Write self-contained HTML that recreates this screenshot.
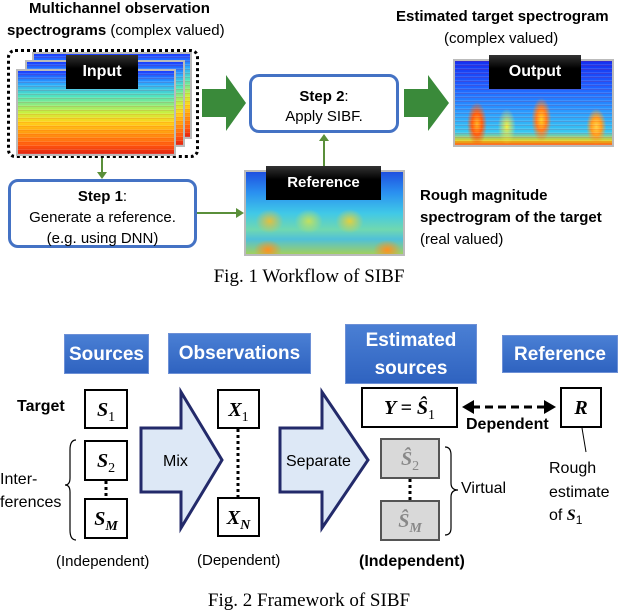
<!DOCTYPE html>
<html><head><meta charset="utf-8"><style>
body{margin:0;width:618px;height:616px;background:#fff;position:relative;overflow:hidden;font-family:"Liberation Sans",sans-serif;}
.a{position:absolute;}
.t{position:absolute;white-space:nowrap;font-size:15px;color:#000;}
.b{font-weight:bold;}
.spec{position:absolute;border:2px solid #bbb;box-sizing:border-box;overflow:hidden;}
.in{background:linear-gradient(#1a3cff 0%,#2aa7ff 15%,#4fe3c0 30%,#c8f040 50%,#ffd21a 62%,#ff9a10 75%,#ff5a10 90%,#e02010 100%);}
.in::after,.ou::after{content:"";position:absolute;inset:0;background:repeating-linear-gradient(0deg,rgba(255,255,255,.12) 0 1px,rgba(0,0,0,0) 1px 3px,rgba(255,0,0,.12) 3px 4px);}
.ou{background:radial-gradient(ellipse 10px 22px at 14% 75%,#ffb020,#ff6010 50%,rgba(0,0,0,0) 100%),radial-gradient(ellipse 10px 22px at 55% 70%,#ffd020,#ff8020 50%,rgba(0,0,0,0) 100%),radial-gradient(ellipse 10px 18px at 90% 78%,#ffd040,#ffa020 50%,rgba(0,0,0,0) 100%),radial-gradient(ellipse 9px 18px at 33% 78%,#f0f040,rgba(0,0,0,0) 100%),linear-gradient(#1430f0 0%,#1e60ff 30%,#2a9aff 60%,#38c8f0 85%,#e0d020 95%,#ff5010 100%);}
.re{background:radial-gradient(ellipse 14px 12px at 15% 60%,#e0c040,rgba(0,0,0,0)),radial-gradient(ellipse 14px 12px at 40% 60%,#c0e060,rgba(0,0,0,0)),radial-gradient(ellipse 14px 12px at 66% 60%,#e0d040,rgba(0,0,0,0)),radial-gradient(ellipse 14px 10px at 90% 95%,#ff9020,rgba(0,0,0,0)),radial-gradient(ellipse 14px 10px at 14% 95%,#ff9020,rgba(0,0,0,0)),linear-gradient(#1e50e0 0%,#2a90f0 25%,#40c8e8 50%,#70d8b0 70%,#50c0d8 82%,#a0d060 100%);}
.lbl{position:absolute;background:linear-gradient(#333,#000 40%);color:#fff;font-weight:bold;font-size:15px;text-align:center;box-sizing:border-box;}
.rb{position:absolute;border:3px solid #4472c4;border-radius:10px;box-sizing:border-box;background:#fff;text-align:center;font-size:15px;}
.hd{position:absolute;background:linear-gradient(#4a7fd4,#2f63c0);color:#fff;font-weight:bold;font-size:19px;text-align:center;box-sizing:border-box;border:1px solid #6d90d6;}
.bx{position:absolute;border:2px solid #000;box-sizing:border-box;background:#fff;text-align:center;font-family:"Liberation Serif",serif;font-weight:bold;font-style:italic;font-size:20px;}
.gb{background:#d9d9d9;border-color:#555;color:#888;}
.cap{position:absolute;width:618px;text-align:center;font-family:"Liberation Serif",serif;font-size:19px;}
</style></head><body>
<div class="t b" style="left:29px;top:0px;">Multichannel observation</div>
<div class="t" style="left:7px;top:22px;"><b>spectrograms</b> (complex valued)</div>
<div class="a" style="left:7px;top:49px;width:192px;height:109px;border:3px dotted #000;border-radius:8px;box-sizing:border-box;"></div>
<div class="spec in" style="left:32px;top:52px;width:160px;height:87px;"></div>
<div class="spec in" style="left:25px;top:60px;width:160px;height:87px;"></div>
<div class="spec in" style="left:16px;top:69px;width:160px;height:87px;"></div>
<div class="lbl" style="left:66px;top:55px;width:72px;height:34px;line-height:34px;font-size:16px;">Input</div>

<svg class="a" style="left:0;top:0" width="618" height="300">
<polygon points="202,89 226,89 226,75 246,103 226,131 226,117 202,117" fill="#3a8a3a"/>
<polygon points="404,89 428,89 428,75 449,103 428,131 428,117 404,117" fill="#3a8a3a"/>
<g stroke="#5a8f3a" stroke-width="2" fill="#5a8f3a">
<line x1="102" y1="158" x2="102" y2="173"/><polygon points="97,172 107,172 102,179" stroke="none"/>
<line x1="197" y1="213" x2="237" y2="213"/><polygon points="236,208 236,218 244,213" stroke="none"/>
<line x1="324" y1="170" x2="324" y2="140"/><polygon points="319,141 329,141 324,134" stroke="none"/>
</g>
</svg>

<div class="rb" style="left:249px;top:74px;width:150px;height:59px;padding-top:10px;line-height:20px;"><b>Step 2</b>:<br>Apply SIBF.</div>
<div class="t b" style="left:396px;top:8px;">Estimated target spectrogram</div>
<div class="t" style="left:444px;top:30px;">(complex valued)</div>
<div class="spec ou" style="left:453px;top:59px;width:161px;height:88px;"></div>
<div class="lbl" style="left:489px;top:55px;width:92px;height:34px;line-height:34px;font-size:16px;">Output</div>

<div class="rb" style="left:8px;top:179px;width:189px;height:69px;padding-top:4px;line-height:21px;"><b>Step 1</b>:<br>Generate a reference.<br>(e.g. using DNN)</div>
<div class="spec re" style="left:244px;top:170px;width:161px;height:86px;"></div>
<div class="lbl" style="left:266px;top:166px;width:115px;height:34px;line-height:34px;">Reference</div>
<div class="t b" style="left:420px;top:187px;">Rough magnitude</div>
<div class="t b" style="left:420px;top:209px;">spectrogram of the target</div>
<div class="t" style="left:420px;top:231px;">(real valued)</div>
<div class="cap" style="top:266px;">Fig. 1 Workflow of SIBF</div>

<div class="hd" style="left:64px;top:334px;width:85px;height:40px;line-height:40px;">Sources</div>
<div class="hd" style="left:168px;top:333px;width:143px;height:41px;line-height:40px;">Observations</div>
<div class="hd" style="left:345px;top:324px;width:132px;height:60px;line-height:28px;padding-top:2px;">Estimated<br>sources</div>
<div class="hd" style="left:502px;top:335px;width:116px;height:38px;line-height:38px;">Reference</div>

<div class="t b" style="left:17px;top:398px;font-size:16px;">Target</div>
<div class="bx" style="left:84px;top:389px;width:44px;height:40px;line-height:38px;">S<sub style="font-style:normal;font-weight:normal;font-size:14px">1</sub></div>
<div class="bx" style="left:84px;top:440px;width:44px;height:41px;line-height:38px;">S<sub style="font-style:normal;font-weight:normal;font-size:14px">2</sub></div>
<div class="bx" style="left:84px;top:498px;width:44px;height:41px;line-height:38px;">S<sub style="font-size:14px">M</sub></div>
<div class="t" style="left:0px;top:471px;font-size:16px;">Inter-</div>
<div class="t" style="left:0px;top:494px;font-size:16px;">ferences</div>
<div class="bx" style="left:217px;top:389px;width:43px;height:40px;line-height:38px;">X<sub style="font-style:normal;font-weight:normal;font-size:14px">1</sub></div>
<div class="bx" style="left:217px;top:497px;width:43px;height:40px;line-height:38px;">X<sub style="font-size:14px">N</sub></div>
<div class="bx" style="left:361px;top:387px;width:97px;height:41px;line-height:38px;">Y = Ŝ<sub style="font-style:normal;font-weight:normal;font-size:14px">1</sub></div>
<div class="bx" style="left:560px;top:387px;width:42px;height:41px;line-height:38px;">R</div>
<div class="bx gb" style="left:380px;top:438px;width:60px;height:41px;line-height:38px;">Ŝ<sub style="font-style:normal;font-weight:normal;font-size:14px">2</sub></div>
<div class="bx gb" style="left:380px;top:500px;width:60px;height:41px;line-height:38px;">Ŝ<sub style="font-size:14px">M</sub></div>

<svg class="a" style="left:0;top:380px" width="618" height="170">
<g fill="#dde8f6" stroke="#232a6a" stroke-width="3">
<polygon points="141,48 181,48 181,12 222,80 181,148 181,112 141,112"/>
<polygon points="280,48 322,48 322,12 368,80 322,148 322,112 280,112"/>
</g>
<text x="163" y="86" font-family="Liberation Sans" font-size="16">Mix</text>
<text x="286" y="86" font-family="Liberation Sans" font-size="16">Separate</text>
<g stroke="#000" stroke-width="3" stroke-dasharray="3,3">
<line x1="106" y1="101" x2="106" y2="118"/>
<line x1="238" y1="49" x2="238" y2="117"/>
<line x1="410" y1="99" x2="410" y2="120"/>
</g>
<line x1="472" y1="27" x2="546" y2="27" stroke="#000" stroke-width="3" stroke-dasharray="8,5"/>
<polygon points="462,27 474,20 474,34"/><polygon points="556,27 544,20 544,34"/>
<line x1="582" y1="48" x2="586" y2="72" stroke="#000" stroke-width="1"/>
<path d="M76,60 Q70,60 70,70 L70,98 Q70,105 65,105 Q70,105 70,112 L70,150 Q70,160 76,160" fill="none" stroke="#000" stroke-width="1.2"/>
<path d="M445,67 Q451,67 451,75 L451,103 Q451,110 458,110 Q451,110 451,117 L451,148 Q451,155 445,155" fill="none" stroke="#000" stroke-width="1.2"/>
</svg>
<div class="t b" style="left:466px;top:416px;font-size:16px;">Dependent</div>
<div class="t" style="left:461px;top:480px;font-size:16px;">Virtual</div>
<div class="t" style="left:549px;top:460px;font-size:16px;">Rough</div>
<div class="t" style="left:549px;top:484px;font-size:16px;">estimate</div>
<div class="t" style="left:549px;top:507px;font-size:16px;">of <b style="font-family:'Liberation Serif',serif;font-style:italic;">S</b><sub style="font-size:12px">1</sub></div>
<div class="t" style="left:56px;top:553px;">(Independent)</div>
<div class="t" style="left:197px;top:552px;">(Dependent)</div>
<div class="t b" style="left:359px;top:553px;font-size:16px;">(Independent)</div>
<div class="cap" style="top:590px;">Fig. 2 Framework of SIBF</div>
</body></html>
